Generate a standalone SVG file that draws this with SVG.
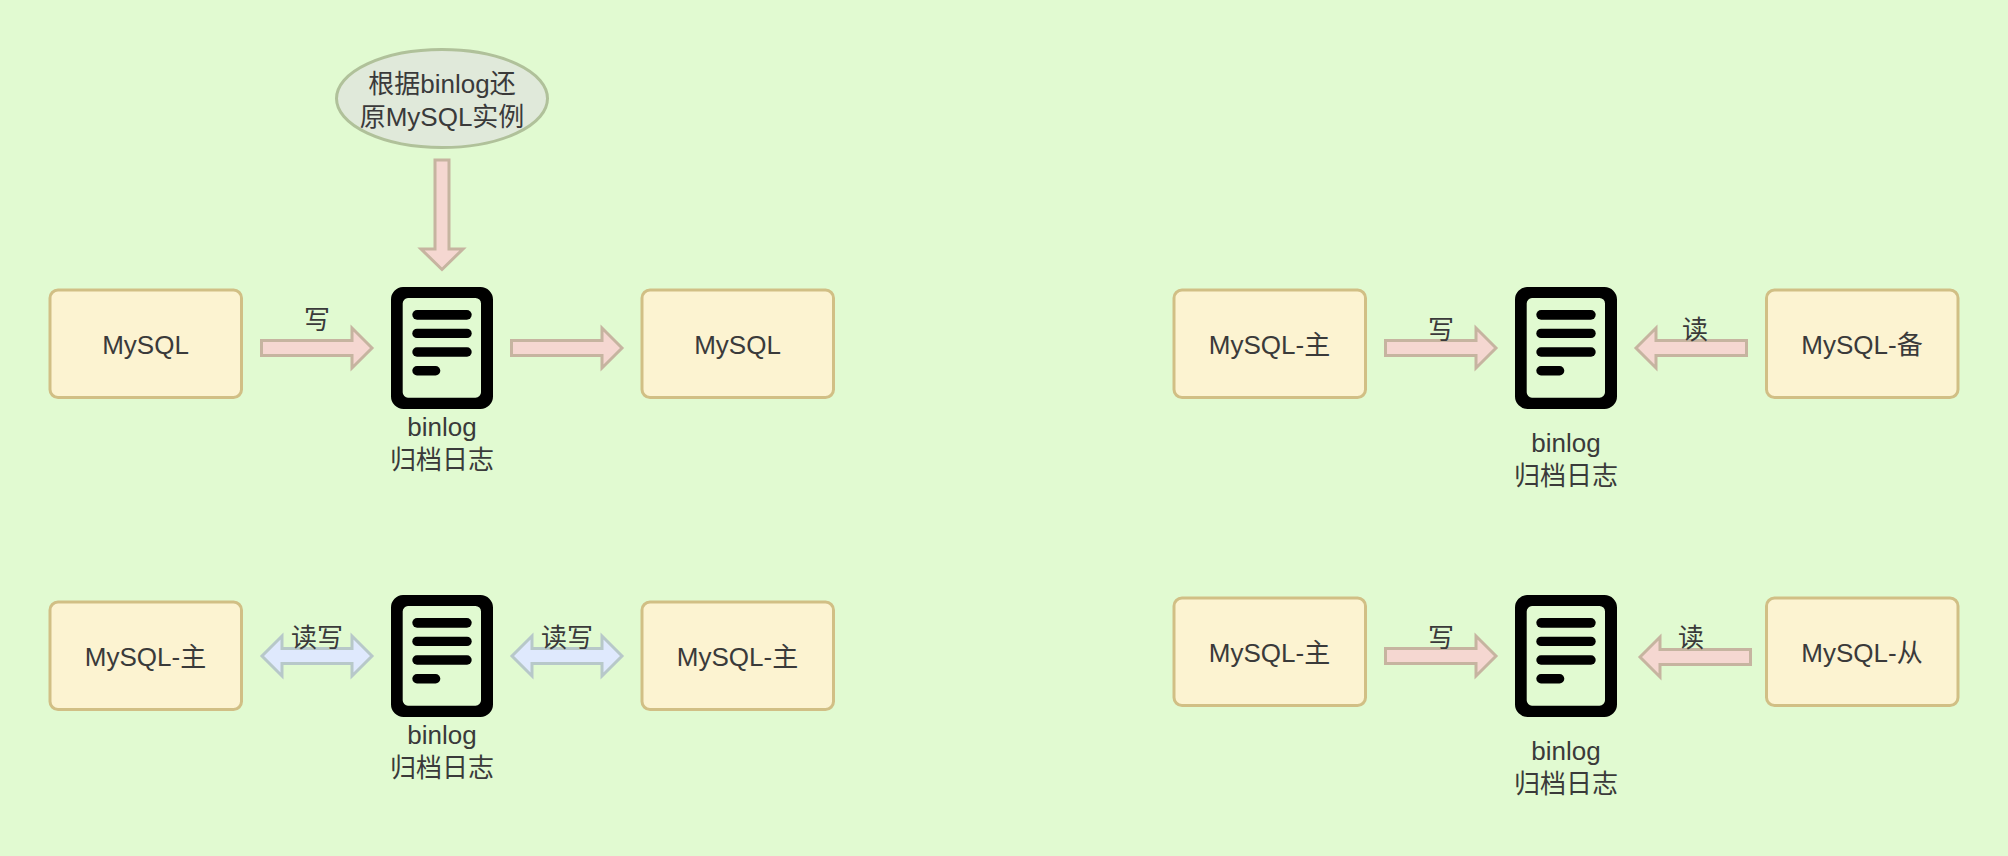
<svg xmlns="http://www.w3.org/2000/svg" width="2008" height="856" viewBox="0 0 2008 856">
<defs>
<style>
text{font-family:"Liberation Sans","Noto Sans CJK SC",sans-serif;font-size:26px;fill:#3a3a3a;text-anchor:middle}
.box{fill:#fcf3d1;stroke:#d1bf85;stroke-width:3}
.a{fill:#f5d7d1;stroke:#c6b4a0;stroke-width:3}
.d{fill:#dfe9fd;stroke:#b7c8c9;stroke-width:3}
</style>
<g id="doc">
<path fill-rule="evenodd" d="M403 287H480.500A12.500 12.500 0 0 1 493 299.500V396.500A12.500 12.500 0 0 1 480.500 409H403.500A12.500 12.500 0 0 1 391 396.500V299.500A12.500 12.500 0 0 1 403 287ZM408 298A5.500 5.500 0 0 0 402.700 303.500V392.200A5.500 5.500 0 0 0 408 397.700H475.500A5.500 5.500 0 0 0 481 392.200V303.500A5.500 5.500 0 0 0 475.500 298Z"/>
<rect x="412.300" y="310" width="59.400" height="9.700" rx="4.850"/>
<rect x="412.300" y="328.700" width="59.400" height="9.400" rx="4.700"/>
<rect x="412.300" y="347.300" width="59.400" height="9.400" rx="4.700"/>
<rect x="412.300" y="366" width="28" height="9.400" rx="4.700"/>
</g>
</defs>
<rect width="2008" height="856" fill="#e1fad1"/>
<g id="connectors">
<polygon class="a" points="442,269.500 421,249 435,249 435,160 449,160 449,249 463,249"/>
<polygon class="a" points="372,348 352,328 352,340.500 261.500,340.500 261.500,355.500 352,355.500 352,368"/>
<polygon class="a" points="622,348 602,328 602,340.500 511.500,340.500 511.500,355.500 602,355.500 602,368"/>
<polygon class="a" points="1496,348 1476,328 1476,340.500 1385.500,340.500 1385.500,355.500 1476,355.500 1476,368"/>
<polygon class="a" points="1636,348 1656,328 1656,340.500 1746.500,340.500 1746.500,355.500 1656,355.500 1656,368"/>
<polygon class="a" points="1496,656 1476,636 1476,648.500 1385.500,648.500 1385.500,663.500 1476,663.500 1476,676"/>
<polygon class="a" points="1640,657 1660,637 1660,649.500 1750.500,649.500 1750.500,664.500 1660,664.500 1660,677"/>
<polygon class="d" points="372,656 352,636 352,648.500 282,648.500 282,636 262,656 282,676 282,663.500 352,663.500 352,676"/>
<polygon class="d" points="622,656 602,636 602,648.500 532,648.500 532,636 512,656 532,676 532,663.500 602,663.500 602,676"/>
</g>
<g id="n1"><ellipse cx="442" cy="98.500" rx="105.500" ry="49" fill="#e0e9da" stroke="#b0c19a" stroke-width="3"/><text x="442" y="93">根据binlog还</text><text x="442" y="126">原MySQL实例</text></g>
<g id="n2"><rect class="box" x="50" y="290" width="191.500" height="107.500" rx="8"/><text x="145.500" y="354">MySQL</text></g>
<g id="n3"><rect class="box" x="642" y="290" width="191.500" height="107.500" rx="8"/><text x="737.500" y="354">MySQL</text></g>
<g id="n4"><rect class="box" x="1174" y="290" width="191.500" height="107.500" rx="8"/><text x="1269.500" y="354">MySQL-主</text></g>
<g id="n5"><rect class="box" x="1766.500" y="290" width="191.500" height="107.500" rx="8"/><text x="1862" y="354">MySQL-备</text></g>
<g id="n6"><rect class="box" x="50" y="602" width="191.500" height="107.500" rx="8"/><text x="145.500" y="666">MySQL-主</text></g>
<g id="n7"><rect class="box" x="642" y="602" width="191.500" height="107.500" rx="8"/><text x="737.500" y="666">MySQL-主</text></g>
<g id="n8"><rect class="box" x="1174" y="598" width="191.500" height="107.500" rx="8"/><text x="1269.500" y="662">MySQL-主</text></g>
<g id="n9"><rect class="box" x="1766.500" y="598" width="191.500" height="107.500" rx="8"/><text x="1862" y="662">MySQL-从</text></g>
<g id="doc1"><use href="#doc"/><text x="442" y="436">binlog</text><text x="442" y="469">归档日志</text></g>
<g id="doc2"><use href="#doc" x="1124"/><text x="1566" y="452">binlog</text><text x="1566" y="485">归档日志</text></g>
<g id="doc3"><use href="#doc" y="308"/><text x="442" y="744">binlog</text><text x="442" y="777">归档日志</text></g>
<g id="doc4"><use href="#doc" x="1124" y="308"/><text x="1566" y="760">binlog</text><text x="1566" y="793">归档日志</text></g>
<g id="labels">
<text x="317" y="329">写</text>
<text x="1441" y="339">写</text>
<text x="1695" y="339">读</text>
<text x="1441" y="647">写</text>
<text x="1691" y="647">读</text>
<text x="317" y="647">读写</text>
<text x="567" y="647">读写</text>
</g>
</svg>
